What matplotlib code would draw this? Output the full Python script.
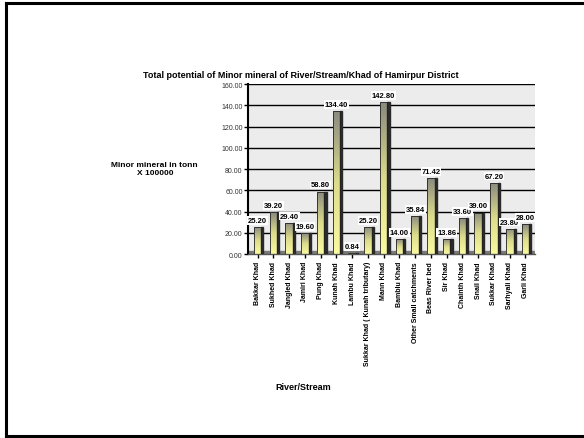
import numpy as np
import matplotlib
matplotlib.use('Agg')
from matplotlib import pyplot as plt
from matplotlib.patches import Rectangle
from matplotlib.lines import Line2D

plt.rcParams['font.family'] = ['Liberation Sans', 'DejaVu Sans']

rivers = ['Bakkar Khad', 'Sukhed Khad', 'Jangled Khad', 'Jamiri Khad', 'Pung Khad',
          'Kunah Khad', 'Lambu Khad', 'Sukkar Khad ( Kunah tributary)', 'Mann Khad',
          'Bamblu Khad', 'Other Small catchments', 'Beas River bed', 'Sir Khad',
          'Chainth Khad', 'Snail Khad', 'Sukkar Khad', 'Sarhyali Khad', 'Garli Khad']
potential = [25.20, 39.20, 29.40, 19.60, 58.80, 134.40, 0.84, 25.20, 142.80,
             14.00, 35.84, 71.42, 13.86, 33.60, 39.00, 67.20, 23.80, 28.00]
yticks = [0, 20, 40, 60, 80, 100, 120, 140, 160]

fig = plt.figure(figsize=(5.84, 4.39), dpi=100)

# outer frame
for xs, ys in [([0.011, 0.011], [0.005, 0.991]), ([0.011, 1.0], [0.991, 0.991]),
               ([0.011, 1.0], [0.005, 0.005])]:
    fig.add_artist(Line2D(xs, ys, color='black', lw=2.2, transform=fig.transFigure))

ax = fig.add_axes([0.425, 0.419, 0.491, 0.387])
ax.set_facecolor('#ececec')
ax.set_yticks(yticks)
ax.set_yticklabels(['%.2f' % v for v in yticks], fontsize=5, color='#333333')
ax.yaxis.grid(True, color='black', lw=1.0)
ax.set_axisbelow(True)
for s in ['top', 'right']:
    ax.spines[s].set_visible(False)
ax.spines['left'].set_linewidth(1.5)
ax.spines['bottom'].set_color('#555555')
ax.spines['bottom'].set_linewidth(1.0)
ax.tick_params(axis='y', length=3, width=1, pad=1)
ax.tick_params(axis='x', length=3, width=1, pad=2)
ax.axhspan(0, 2.5, color='#7a7a7a', zorder=1)

# gradient bars (yellow at bottom, grey on top) with dark side face
grad = np.linspace(0, 1, 100).reshape(-1, 1)
cmap = matplotlib.colors.LinearSegmentedColormap.from_list('bar', ['#fafaa0', '#dcdc8c', '#8a8a80'])
w = 0.48
bars = ax.bar(range(len(rivers)), potential, width=w, color='none', edgecolor='#222222', lw=0.6, zorder=3)
for i, (b, v) in enumerate(zip(bars, potential)):
    im = ax.imshow(grad, extent=[i - w / 2, i + w / 2, 0, v], origin='lower', cmap=cmap,
                   aspect='auto', zorder=2.5)
    im.set_clip_path(b)
    ax.add_patch(Rectangle((i + w / 2, 0), 0.13, v, color='#2a2a2a', zorder=2.6))
    ax.text(i, v + 3, '%.2f' % v, ha='center', va='bottom', fontsize=5.5, fontweight='bold',
            bbox=dict(facecolor='white', edgecolor='none', pad=0.6), zorder=4)
ax.set_xlim(-0.6, len(rivers) - 0.4)
ax.set_ylim(0, 160)

ax.set_xticks(range(len(rivers)))
ax.set_xticklabels(rivers, rotation=90, fontsize=5, fontweight='bold')

fig.text(0.515, 0.827, 'Total potential of Minor mineral of River/Stream/Khad of Hamirpur District',
         ha='center', va='center', fontsize=6.5, fontweight='bold')
fig.text(0.265, 0.615, 'Minor mineral in tonn\nX 100000', ha='center', va='center',
         fontsize=6, fontweight='bold')
fig.text(0.519, 0.117, 'River/Stream', ha='center', va='center', fontsize=6.5, fontweight='bold')

plt.savefig('out.png', dpi=100)
